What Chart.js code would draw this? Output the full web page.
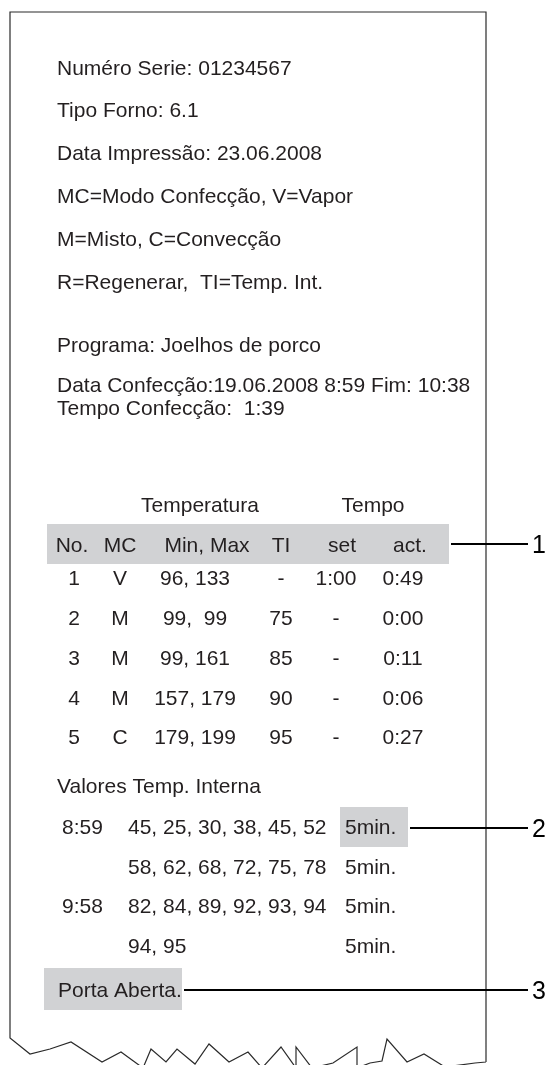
<!DOCTYPE html>
<html><head><meta charset="utf-8">
<script src="https://cdn.jsdelivr.net/npm/chart.js@4"></script>
<style>html,body{margin:0;padding:0;background:#fff;}#wrap{width:549px;height:1065px;position:relative;}</style>
</head><body><div id="wrap"><canvas id="c"></canvas></div>
<script>
// ---- data ----
const headerLines = ['Numéro Serie: 01234567','Tipo Forno: 6.1','Data Impressão: 23.06.2008','MC=Modo Confecção, V=Vapor','M=Misto, C=Convecção','R=Regenerar,  TI=Temp. Int.'];
const programLines = ['Programa: Joelhos de porco','Data Confecção:19.06.2008 8:59 Fim: 10:38','Tempo Confecção:  1:39'];
const groupLabels = ['Temperatura','Tempo'];
const columnLabels = ['No.','MC','Min, Max','TI','set','act.'];
const stepNo = [1,2,3,4,5];
const stepMode = ['V','M','M','M','C'];
const tempMin = [96,99,99,157,179];
const tempMax = [133,99,161,179,199];
const coreTemp = [null,75,85,90,95];
const timeSet = ['1:00',null,null,null,null];
const timeAct = ['0:49','0:00','0:11','0:06','0:27'];
const coreTitle = 'Valores Temp. Interna';
const coreStart = ['8:59',null,'9:58',null];
const coreValues = [[45,25,30,38,45,52],[58,62,68,72,75,78],[82,84,89,92,93,94],[94,95]];
const coreInterval = ['5min.','5min.','5min.','5min.'];
const doorNote = 'Porta Aberta.';
const calloutLabels = ['1','2','3'];

// ---- layout (page units) ----
const FONT = '21px "Liberation Sans", Arial, Helvetica, sans-serif';
const TEXT = '#231f20';
const GREY = '#d1d2d4';
const tornEdge = [[10,1038],[30,1054],[50,1049],[71,1042],[102,1062],[121,1052],[143,1068],[151,1049],[166,1062],[177,1049],[195,1064],[209,1044],[229,1062],[248,1052],[262,1068],[281,1047],[296,1068],[296,1047],[312,1068],[333,1063],[357,1047],[357,1068],[370,1063],[382,1061],[387,1039],[407,1062],[424,1054],[445,1067],[475,1063],[486,1062]];

const receiptPlugin = {
  id: 'receipt',
  afterDraw(chart) {
    const ctx = chart.ctx, xs = chart.scales.x, ys = chart.scales.y;
    const X = v => xs.getPixelForValue(v), Y = v => ys.getPixelForValue(v);
    ctx.save();
    // outline
    ctx.strokeStyle = '#2a2a2a'; ctx.lineWidth = 1.2; ctx.lineJoin = 'miter';
    ctx.beginPath();
    ctx.moveTo(X(486), Y(1062)); ctx.lineTo(X(486), Y(12)); ctx.lineTo(X(10), Y(12)); ctx.lineTo(X(10), Y(1038));
    tornEdge.forEach(([a,b]) => ctx.lineTo(X(a), Y(b)));
    ctx.stroke();
    // grey highlight boxes
    ctx.fillStyle = GREY;
    const box = (x0,y0,x1,y1) => ctx.fillRect(X(x0), Y(y0), X(x1)-X(x0), Y(y1)-Y(y0));
    box(47,524,449,564);
    box(340,807,408,847);
    box(44,968,182,1010);
    // callouts
    ctx.strokeStyle = '#000'; ctx.lineWidth = 2;
    [[451,544],[410,828],[184,990]].forEach(([x0,y]) => {
      ctx.beginPath(); ctx.moveTo(X(x0), Y(y)); ctx.lineTo(X(528), Y(y)); ctx.stroke();
    });
    ctx.fillStyle = '#000'; ctx.font = '25px "Liberation Sans", Arial, sans-serif';
    ctx.textBaseline = 'alphabetic'; ctx.textAlign = 'left';
    [[544],[828],[990]].forEach(([y], i) => ctx.fillText(calloutLabels[i], X(532), Y(y + 9)));

    // text
    ctx.fillStyle = TEXT; ctx.font = FONT; ctx.textBaseline = 'alphabetic';
    const T = (s, x, y, align) => { ctx.textAlign = align || 'left'; ctx.fillText(s, X(x), Y(y)); };
    const hdrBase = [75,117,160,203,246,289];
    headerLines.forEach((s,i) => T(s, 57, hdrBase[i]));
    const progBase = [352,392,415];
    programLines.forEach((s,i) => T(s, 57, progBase[i]));
    T(groupLabels[0], 200, 512, 'center');
    T(groupLabels[1], 373, 512, 'center');
    const hdrCols = [72,120,207,281,342,410];
    columnLabels.forEach((s,i) => T(s, hdrCols[i], 552, 'center'));
    const valCols = [74,120,195,281,336,403];
    const rowBase = [585,625,665,705,744];
    stepNo.forEach((n,i) => {
      const y = rowBase[i];
      T(String(n), valCols[0], y, 'center');
      T(stepMode[i], valCols[1], y, 'center');
      T(tempMin[i] + ', ' + String(tempMax[i]).padStart(3,' '), valCols[2], y, 'center');
      T(coreTemp[i] == null ? '-' : String(coreTemp[i]), valCols[3], y, 'center');
      T(timeSet[i] == null ? '-' : timeSet[i], valCols[4], y, 'center');
      T(timeAct[i], valCols[5], y, 'center');
    });
    T(coreTitle, 57, 793);
    const coreBase = [834,874,913,953];
    coreValues.forEach((vals,i) => {
      const y = coreBase[i];
      if (coreStart[i]) T(coreStart[i], 62, y);
      T(vals.join(', '), 128, y);
      T(coreInterval[i], 345, y);
    });
    T(doorNote, 58, 997);
    ctx.restore();
  }
};

new Chart(document.getElementById('c'), {
  type: 'scatter',
  data: { datasets: [{ data: [], pointRadius: 0 }] },
  options: {
    responsive: true, maintainAspectRatio: false, animation: false, events: [],
    layout: { padding: 0 },
    plugins: { legend: { display: false }, tooltip: { enabled: false } },
    scales: {
      x: { type: 'linear', min: 0, max: 549, display: false },
      y: { type: 'linear', min: 0, max: 1065, reverse: true, display: false }
    }
  },
  plugins: [receiptPlugin]
});
</script></body></html>
